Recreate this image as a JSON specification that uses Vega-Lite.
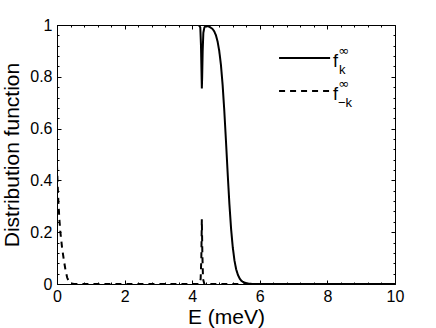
{
  "$schema": "https://vega.github.io/schema/vega-lite/v6.json",
  "width": 338,
  "height": 259,
  "autosize": {"type": "none"},
  "padding": {"left": 57, "top": 25, "right": 41, "bottom": 44},
  "background": "white",
  "data": {"values": [{}]},
  "config": {
    "font": "Liberation Sans",
    "view": {"stroke": "black", "strokeWidth": 1},
    "text": {"fill": "black", "color": "black"},
    "axis": {
      "labelColor": "black", "titleColor": "black", "domainColor": "black", "tickColor": "black",
      "labelFont": "Liberation Sans", "titleFont": "Liberation Sans",
      "labelFontSize": 16, "titleFontSize": 21, "titleFontWeight": "normal", "grid": false
    }
  },
  "datasets": {
    "curves": [
      {"E": 0, "f": 1, "series": "fk"},
      {"E": 4.2, "f": 1, "series": "fk"},
      {"E": 4.24, "f": 0.99, "series": "fk"},
      {"E": 4.26, "f": 0.92, "series": "fk"},
      {"E": 4.275, "f": 0.82, "series": "fk"},
      {"E": 4.285, "f": 0.755, "series": "fk"},
      {"E": 4.295, "f": 0.8, "series": "fk"},
      {"E": 4.31, "f": 0.9, "series": "fk"},
      {"E": 4.33, "f": 0.97, "series": "fk"},
      {"E": 4.36, "f": 0.99, "series": "fk"},
      {"E": 4.4, "f": 0.997, "series": "fk"},
      {"E": 4.5, "f": 0.994, "series": "fk"},
      {"E": 4.6, "f": 0.985, "series": "fk"},
      {"E": 4.65, "f": 0.976, "series": "fk"},
      {"E": 4.7, "f": 0.961, "series": "fk"},
      {"E": 4.75, "f": 0.937, "series": "fk"},
      {"E": 4.8, "f": 0.9, "series": "fk"},
      {"E": 4.85, "f": 0.846, "series": "fk"},
      {"E": 4.9, "f": 0.769, "series": "fk"},
      {"E": 4.95, "f": 0.668, "series": "fk"},
      {"E": 5.0, "f": 0.55, "series": "fk"},
      {"E": 5.05, "f": 0.426, "series": "fk"},
      {"E": 5.1, "f": 0.31, "series": "fk"},
      {"E": 5.15, "f": 0.214, "series": "fk"},
      {"E": 5.2, "f": 0.142, "series": "fk"},
      {"E": 5.25, "f": 0.091, "series": "fk"},
      {"E": 5.3, "f": 0.057, "series": "fk"},
      {"E": 5.35, "f": 0.036, "series": "fk"},
      {"E": 5.4, "f": 0.022, "series": "fk"},
      {"E": 5.45, "f": 0.013, "series": "fk"},
      {"E": 5.5, "f": 0.008, "series": "fk"},
      {"E": 5.6, "f": 0.003, "series": "fk"},
      {"E": 5.7, "f": 0.001, "series": "fk"},
      {"E": 5.8, "f": 0, "series": "fk"},
      {"E": 10, "f": 0, "series": "fk"},
      {"E": 0, "f": 0.46, "series": "fmk"},
      {"E": 0.02, "f": 0.38, "series": "fmk"},
      {"E": 0.04, "f": 0.32, "series": "fmk"},
      {"E": 0.07, "f": 0.25, "series": "fmk"},
      {"E": 0.1, "f": 0.2, "series": "fmk"},
      {"E": 0.15, "f": 0.14, "series": "fmk"},
      {"E": 0.2, "f": 0.095, "series": "fmk"},
      {"E": 0.25, "f": 0.055, "series": "fmk"},
      {"E": 0.3, "f": 0.025, "series": "fmk"},
      {"E": 0.35, "f": 0.01, "series": "fmk"},
      {"E": 0.4, "f": 0.003, "series": "fmk"},
      {"E": 0.5, "f": 0, "series": "fmk"},
      {"E": 4.22, "f": 0, "series": "fmk"},
      {"E": 4.25, "f": 0.02, "series": "fmk"},
      {"E": 4.27, "f": 0.1, "series": "fmk"},
      {"E": 4.285, "f": 0.25, "series": "fmk"},
      {"E": 4.3, "f": 0.12, "series": "fmk"},
      {"E": 4.32, "f": 0.02, "series": "fmk"},
      {"E": 4.36, "f": 0, "series": "fmk"},
      {"E": 10, "f": 0, "series": "fmk"}
    ]
  },
  "resolve": {"axis": {"x": "independent", "y": "independent"}},
  "layer": [
    {
      "data": {"name": "curves"},
      "mark": {"type": "line", "color": "black", "strokeWidth": 2, "clip": true},
      "encoding": {
        "x": {"field": "E", "type": "quantitative",
          "scale": {"domain": [0, 10], "nice": false, "zero": false},
          "axis": {"title": "E (meV)", "values": [0,0.4,0.8,1.2,1.6,2,2.4,2.8,3.2,3.6,4,4.4,4.8,5.2,5.6,6,6.4,6.8,7.2,7.6,8,8.4,8.8,9.2,9.6,10],
            "labelExpr": "datum.value % 2 === 0 ? format(datum.value, '~g') : ''",
            "tickSize": {"expr": "datum.value % 2 === 0 ? -4 : -2"}, "labelPadding": 8, "titlePadding": 0, "labelFlush": false, "labelOverlap": false}},
        "y": {"field": "f", "type": "quantitative",
          "scale": {"domain": [0, 1], "nice": false},
          "axis": {"title": "Distribution function", "values": [0,0.04,0.08,0.12,0.16,0.2,0.24,0.28,0.32,0.36,0.4,0.44,0.48,0.52,0.56,0.6,0.64,0.68,0.72,0.76,0.8,0.84,0.88,0.92,0.96,1],
            "labelExpr": "abs(datum.value*5 - round(datum.value*5)) < 0.000001 ? format(datum.value, '~g') : ''",
            "tickSize": {"expr": "abs(datum.value*5 - round(datum.value*5)) < 0.000001 ? -4 : -2"}, "labelPadding": 9, "titlePadding": 7, "labelFlush": false, "labelOverlap": false}},
        "detail": {"field": "series"},
        "strokeDash": {"field": "series", "type": "nominal", "scale": {"domain": ["fk", "fmk"], "range": [[1, 0], [6, 5]]}, "legend": null}
      }
    },
    {
      "mark": {"type": "rule", "color": "black", "strokeWidth": 2},
      "encoding": {
        "x": {"datum": 6.57, "type": "quantitative",
          "axis": {"orient": "top", "title": null, "labels": false, "domain": false,
            "values": [0,0.4,0.8,1.2,1.6,2,2.4,2.8,3.2,3.6,4,4.4,4.8,5.2,5.6,6,6.4,6.8,7.2,7.6,8,8.4,8.8,9.2,9.6,10],
            "tickSize": {"expr": "datum.value % 2 === 0 ? -4 : -2"}}},
        "x2": {"datum": 8.08},
        "y": {"datum": 0.873, "type": "quantitative",
          "axis": {"orient": "right", "title": null, "labels": false, "domain": false,
            "values": [0,0.04,0.08,0.12,0.16,0.2,0.24,0.28,0.32,0.36,0.4,0.44,0.48,0.52,0.56,0.6,0.64,0.68,0.72,0.76,0.8,0.84,0.88,0.92,0.96,1],
            "tickSize": {"expr": "abs(datum.value*5 - round(datum.value*5)) < 0.000001 ? -4 : -2"}}}
      }
    },
    {
      "mark": {"type": "rule", "color": "black", "strokeWidth": 2, "strokeDash": [6, 5]},
      "encoding": {
        "x": {"datum": 6.57, "type": "quantitative", "axis": null},
        "x2": {"datum": 8.08},
        "y": {"datum": 0.745, "type": "quantitative", "axis": null}
      }
    },
    {
      "mark": {"type": "text", "align": "left", "baseline": "alphabetic", "fontSize": 18, "font": "Liberation Sans", "fill": "black"},
      "encoding": {"x": {"datum": 8.166, "type": "quantitative", "axis": null}, "y": {"datum": 0.838, "type": "quantitative", "axis": null}, "text": {"value": "f"}}
    },
    {
      "mark": {"type": "text", "align": "left", "baseline": "alphabetic", "fontSize": 13, "font": "DejaVu Sans", "fill": "black"},
      "encoding": {"x": {"datum": 8.32, "type": "quantitative", "axis": null}, "y": {"datum": 0.885, "type": "quantitative", "axis": null}, "text": {"value": "∞"}}
    },
    {
      "mark": {"type": "text", "align": "left", "baseline": "alphabetic", "fontSize": 13, "font": "Liberation Sans", "fill": "black"},
      "encoding": {"x": {"datum": 8.34, "type": "quantitative", "axis": null}, "y": {"datum": 0.811, "type": "quantitative", "axis": null}, "text": {"value": "k"}}
    },
    {
      "mark": {"type": "text", "align": "left", "baseline": "alphabetic", "fontSize": 18, "font": "Liberation Sans", "fill": "black"},
      "encoding": {"x": {"datum": 8.166, "type": "quantitative", "axis": null}, "y": {"datum": 0.71, "type": "quantitative", "axis": null}, "text": {"value": "f"}}
    },
    {
      "mark": {"type": "text", "align": "left", "baseline": "alphabetic", "fontSize": 13, "font": "DejaVu Sans", "fill": "black"},
      "encoding": {"x": {"datum": 8.32, "type": "quantitative", "axis": null}, "y": {"datum": 0.758, "type": "quantitative", "axis": null}, "text": {"value": "∞"}}
    },
    {
      "mark": {"type": "text", "align": "left", "baseline": "alphabetic", "fontSize": 13, "font": "Liberation Sans", "fill": "black"},
      "encoding": {"x": {"datum": 8.31, "type": "quantitative", "axis": null}, "y": {"datum": 0.683, "type": "quantitative", "axis": null}, "text": {"value": "−k"}}
    }
  ]
}
